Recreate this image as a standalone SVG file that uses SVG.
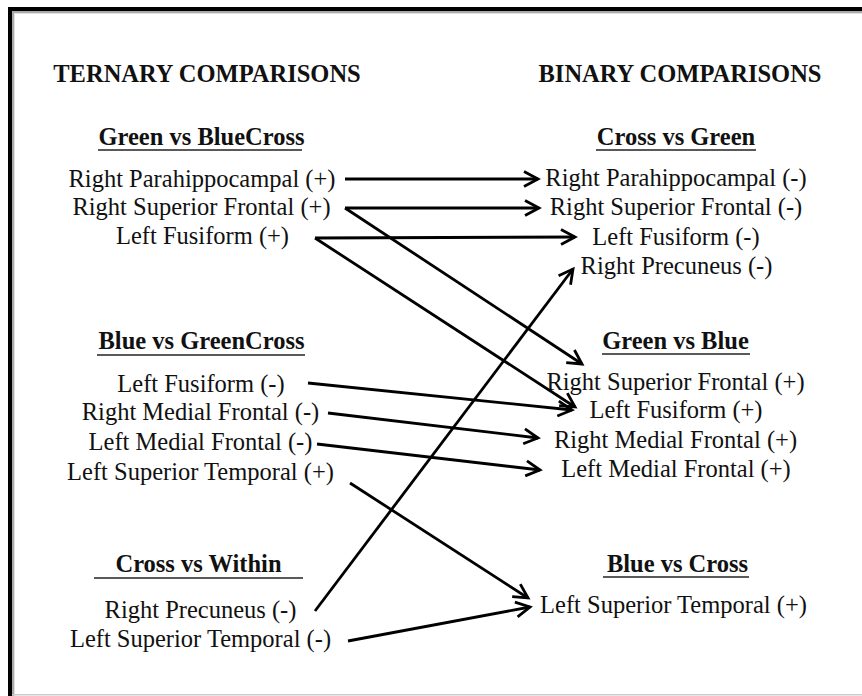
<svg xmlns="http://www.w3.org/2000/svg" width="862" height="696" viewBox="0 0 862 696">
<defs>
<style>
text{font-family:"Liberation Serif","Times New Roman",serif;font-size:24.5px;fill:#111;text-anchor:middle}
.h{font-weight:bold}
.ul{stroke:#222;stroke-width:1.6}
.c{stroke:#000;stroke-width:2.8;fill:none;marker-end:url(#ah)}
</style>
<marker id="ah" markerUnits="userSpaceOnUse" markerWidth="30" markerHeight="30" refX="0" refY="0" viewBox="-20 -15 30 30" orient="auto" overflow="visible">
<path d="M-14,-7.5 L0,0 L-14,7.5" fill="none" stroke="#000" stroke-width="2.8" stroke-linejoin="miter"/>
</marker>
</defs>
<rect x="0" y="0" width="862" height="696" fill="#fff"/>
<g id="frame">
<rect x="12" y="11" width="850" height="2" fill="#aaa"/>
<rect x="12" y="11" width="2" height="685" fill="#aaa"/>
<rect x="14" y="13" width="848" height="1" fill="#e2e2e2"/>
<rect x="14" y="13" width="1" height="683" fill="#e2e2e2"/>
<rect x="8" y="7" width="854" height="4" fill="#000"/>
<rect x="8" y="7" width="4" height="689" fill="#000"/>
<rect x="12" y="694" width="850" height="1.5" fill="#ccc"/>
</g>
<g id="titles">
<text class="h" x="207" y="82">TERNARY COMPARISONS</text>
<text class="h" x="680" y="82">BINARY COMPARISONS</text>
</g>
<g id="ternary-green-vs-bluecross">
<text class="h" x="201.5" y="145">Green vs BlueCross</text>
<line class="ul" x1="98" y1="150" x2="302" y2="150"/>
<text x="202" y="187">Right Parahippocampal (+)</text>
<text x="201.5" y="215">Right Superior Frontal (+)</text>
<text x="202.5" y="244">Left Fusiform (+)</text>
</g>
<g id="ternary-blue-vs-greencross">
<text class="h" x="201.5" y="349">Blue vs GreenCross</text>
<line class="ul" x1="97" y1="355" x2="305" y2="355"/>
<text x="201" y="392">Left Fusiform (-)</text>
<text x="200.5" y="420">Right Medial Frontal (-)</text>
<text x="200.5" y="450">Left Medial Frontal (-)</text>
<text x="200.5" y="480">Left Superior Temporal (+)</text>
</g>
<g id="ternary-cross-vs-within">
<text class="h" x="198.5" y="572">Cross vs Within</text>
<line class="ul" x1="94" y1="578" x2="303" y2="578"/>
<text x="200.5" y="618">Right Precuneus (-)</text>
<text x="200.5" y="647">Left Superior Temporal (-)</text>
</g>
<g id="binary-cross-vs-green">
<text class="h" x="676" y="145">Cross vs Green</text>
<line class="ul" x1="596" y1="150" x2="756" y2="150"/>
<text x="676" y="186">Right Parahippocampal (-)</text>
<text x="676" y="215">Right Superior Frontal (-)</text>
<text x="676" y="245">Left Fusiform (-)</text>
<text x="676.5" y="274">Right Precuneus (-)</text>
</g>
<g id="binary-green-vs-blue">
<text class="h" x="675.5" y="349">Green vs Blue</text>
<line class="ul" x1="602" y1="354" x2="750" y2="354"/>
<text x="675.5" y="390">Right Superior Frontal (+)</text>
<text x="676" y="418">Left Fusiform (+)</text>
<text x="675.5" y="448">Right Medial Frontal (+)</text>
<text x="676" y="477">Left Medial Frontal (+)</text>
</g>
<g id="binary-blue-vs-cross">
<text class="h" x="677.5" y="572">Blue vs Cross</text>
<line class="ul" x1="603" y1="577" x2="749" y2="577"/>
<text x="673.5" y="613">Left Superior Temporal (+)</text>
</g>
<g id="connectors">
<line class="c" x1="345" y1="179" x2="538" y2="179"/>
<line class="c" x1="345" y1="208" x2="539" y2="208"/>
<line class="c" x1="315" y1="238" x2="575" y2="237"/>
<line class="c" x1="345" y1="208" x2="582" y2="364"/>
<line class="c" x1="315" y1="238" x2="575" y2="407"/>
<line class="c" x1="308" y1="383" x2="572" y2="410"/>
<line class="c" x1="328" y1="413" x2="538" y2="438"/>
<line class="c" x1="317" y1="444" x2="540" y2="470"/>
<line class="c" x1="350" y1="483" x2="528" y2="598"/>
<line class="c" x1="315" y1="611" x2="573" y2="269"/>
<line class="c" x1="348" y1="641" x2="530" y2="607"/>
</g>
</svg>
